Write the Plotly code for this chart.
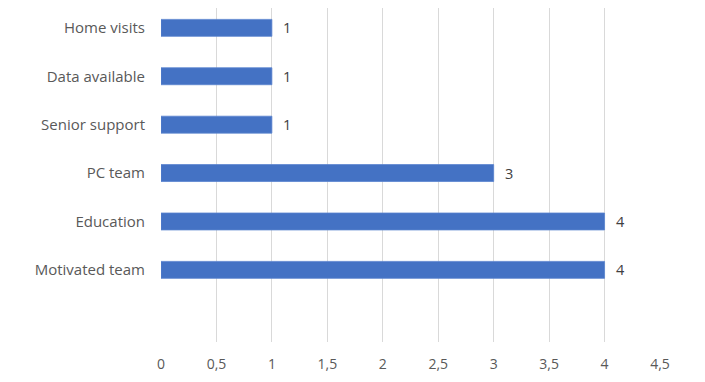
import plotly.graph_objects as go

categories = ["Motivated team", "Education", "PC team", "Senior support", "Data available", "Home visits"]
values = [4, 4, 3, 1, 1, 1]
x_ticks = [0, 0.5, 1, 1.5, 2, 2.5, 3, 3.5, 4, 4.5]

FONT = "Open Sans"
TXT = "#595959"

fig = go.Figure()
fig.add_trace(go.Bar(
    x=values, y=categories, orientation="h",
    marker=dict(color="#4472C4", line=dict(color="#5a84cf", width=0.8)),
    width=0.35, hoverinfo="skip",
))

for c, v in zip(categories, values):
    fig.add_annotation(x=v, y=c, text=str(v), showarrow=False, xanchor="left",
                       xshift=9, font=dict(family=FONT, size=14.5, color="#404040"))

fig.update_layout(
    width=705, height=382,
    margin=dict(l=153, r=53, t=0, b=48),
    paper_bgcolor="white", plot_bgcolor="white",
    separators=", ",
    showlegend=False,
    font=dict(family=FONT, size=14, color=TXT),
    xaxis=dict(range=[0, 4.5], tickvals=x_ticks, showgrid=True,
               gridcolor="#d9d9d9", gridwidth=1, zeroline=False, showline=False,
               ticks="", ticklabelstandoff=12, tickfont=dict(size=14, color=TXT)),
    yaxis=dict(type="category", categoryarray=categories, categoryorder="array",
               range=[-1.49, 5.41], showgrid=False, zeroline=False, showline=False,
               ticks="", ticklabelstandoff=15, tickfont=dict(size=15, color=TXT)),
)

fig.write_html("out.html")
